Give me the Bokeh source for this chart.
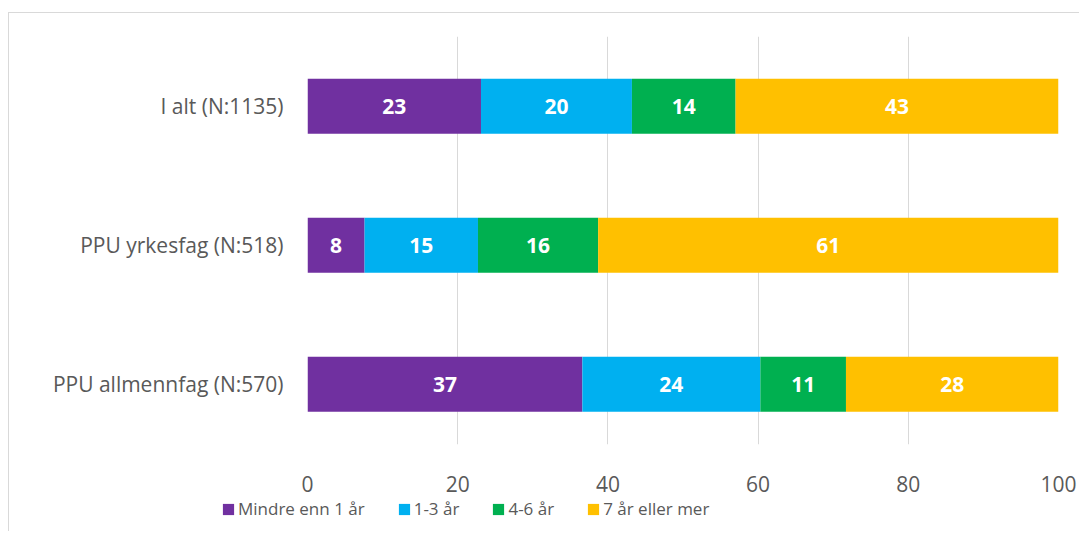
from bokeh.plotting import figure
from bokeh.layouts import column
from bokeh.models import ColumnDataSource, FixedTicker, Range1d, Legend
from bokeh.core.properties import value
from bokeh.embed import file_html
from bokeh.resources import INLINE

categories = ["I alt (N:1135)", "PPU yrkesfag (N:518)", "PPU allmennfag (N:570)"]
series = ["Mindre enn 1 år", "1-3 år", "4-6 år", "7 år eller mer"]
mindre_enn_1 = [23.1, 7.6, 36.6]
aar_1_3 = [20.1, 15.1, 23.7]
aar_4_6 = [13.8, 16.0, 11.4]
aar_7_plus = [43.0, 61.3, 28.3]
colors = ["#7030A0", "#00B0F0", "#00B050", "#FFC000"]
x_ticks = [0, 20, 40, 60, 80, 100]

FONT = "Open Sans"
GRAY = "#595959"

n = len(categories)
ypos = [n - 1 - i for i in range(n)]
keys = ["s0", "s1", "s2", "s3"]
vals = [mindre_enn_1, aar_1_3, aar_4_6, aar_7_plus]
data = {"y": ypos}
for k, v in zip(keys, vals):
    data[k] = v
src = ColumnDataSource(data)

p = figure(width=1070, height=484, output_backend="svg", toolbar_location=None,
           x_range=Range1d(0, 100), y_range=Range1d(-0.434, 2.502),
           min_border_left=298, min_border_right=21, min_border_top=23, min_border_bottom=53)
p.outline_line_color = None
p.background_fill_color = "white"
p.frame_align = False

rs = p.hbar_stack(keys, y="y", height=0.396, color=colors, line_color=None, source=src)

# value labels
lab_x, lab_y, lab_t = [], [], []
for j in range(n):
    left = 0.0
    for v in vals:
        lab_x.append(left + v[j] / 2)
        lab_y.append(ypos[j])
        lab_t.append(f"{v[j]:.0f}")
        left += v[j]
p.text(x=lab_x, y=lab_y, text=lab_t, text_color="white", text_font=value(FONT),
       text_font_size="21px", text_font_style="bold", text_align="center", text_baseline="middle")

p.xaxis.ticker = FixedTicker(ticks=x_ticks)
p.xaxis.axis_line_color = None
p.xaxis.major_tick_line_color = None
p.xaxis.minor_tick_line_color = None
p.xaxis.major_tick_out = 0
p.xaxis.major_tick_in = 0
p.xaxis.major_label_standoff = 31
p.xaxis.major_label_text_font = FONT
p.xaxis.major_label_text_font_size = "21px"
p.xaxis.major_label_text_color = GRAY

p.yaxis.ticker = FixedTicker(ticks=ypos)
p.yaxis.major_label_overrides = {y: c for y, c in zip(ypos, categories)}
p.yaxis.axis_line_color = None
p.yaxis.major_tick_line_color = None
p.yaxis.minor_tick_line_color = None
p.yaxis.major_tick_out = 0
p.yaxis.major_tick_in = 0
p.yaxis.major_label_standoff = 24
p.yaxis.major_label_text_font = FONT
p.yaxis.major_label_text_font_size = "21px"
p.yaxis.major_label_text_color = GRAY

p.xgrid.grid_line_color = "#d9d9d9"
p.xgrid.grid_line_width = 1
p.ygrid.grid_line_color = None

# legend strip (same series, drawn by the library's legend)
lf = figure(width=1070, height=34, output_backend="svg", toolbar_location=None,
            x_range=Range1d(1000, 1001), y_range=Range1d(1000, 1001),
            x_axis_location=None, y_axis_location=None,
            min_border_left=0, min_border_right=0, min_border_top=0, min_border_bottom=0)
lf.outline_line_color = None
lf.frame_align = False
lf.xgrid.grid_line_color = None
lf.ygrid.grid_line_color = None
lrs = lf.hbar_stack(keys, y="y", height=0.396, color=colors, line_color=None, source=src)

legend = Legend(items=[(s, [r]) for s, r in zip(series, lrs)], orientation="horizontal",
                location=(212, 11))
legend.glyph_width = 14
legend.glyph_height = 14
legend.label_height = 20
legend.label_standoff = 3
legend.spacing = 32
legend.padding = 0
legend.margin = 0
legend.border_line_color = None
legend.background_fill_alpha = 0
legend.label_text_font = FONT
legend.label_text_font_size = "17px"
legend.label_text_color = GRAY
lf.add_layout(legend, "center")

layout = column(p, lf, spacing=0)
layout.margin = (12, 0, 0, 8)
layout.styles = {"border-top": "1px solid #d9d9d9", "border-left": "1px solid #d9d9d9"}

open("out.html", "w").write(file_html(layout, INLINE))
